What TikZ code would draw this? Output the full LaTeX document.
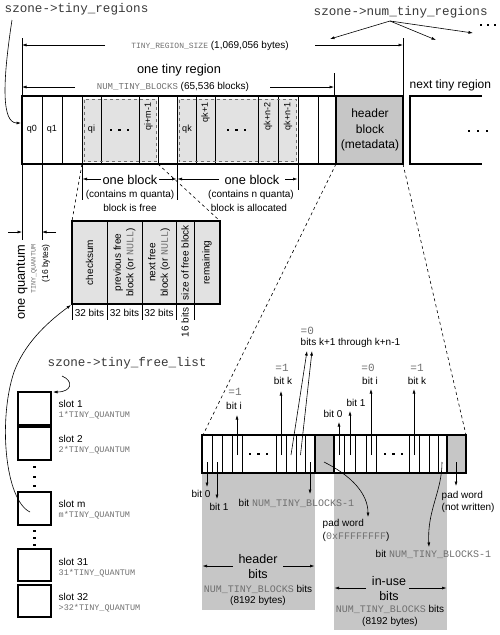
\documentclass[tikz,border=0pt]{standalone}
\usepackage{fontspec}
\setmainfont{Liberation Sans}
\setsansfont{Liberation Sans}
\setmonofont{Liberation Mono}
\usetikzlibrary{arrows.meta}
\definecolor{mgray}{HTML}{707070}
\definecolor{lgray}{HTML}{E2E2E2}
\definecolor{dgray}{HTML}{C6C6C6}
\definecolor{szc}{HTML}{383838}
\newcommand{\mt}[1]{{\ttfamily\color{mgray}#1}}
\newcommand{\myfs}[1]{\fontsize{#1}{#1}\selectfont}
\begin{document}
\begin{tikzpicture}[x=1pt,y=-1pt,
  every node/.style={inner sep=0.5pt},
  ln/.style={line width=0.6pt},
  bx/.style={line width=1.2pt},
  arr/.style={line width=0.6pt,-{Latex[length=4.5pt,width=3pt]}},
  proj/.style={line width=0.6pt,dash pattern=on 3pt off 3pt},
  sz/.style={font=\ttfamily\myfs{12.6}, text=szc},
  f9/.style={font=\myfs{9}},
  f10/.style={font=\fontsize{10}{12.5}\selectfont},
  f12/.style={font=\myfs{12.8}},
  eq/.style={font=\ttfamily\myfs{11}, text=mgray},
  dotsq/.style={fill=black}]
\useasboundingbox (0,0) rectangle (500,635);

% ---------- top labels ----------
\node[sz,anchor=west] (tr) at (4,9) {szone->tiny\_regions};
\draw[arr] (12,20) .. controls (2,85) and (2,123) .. (21,123);
\node[sz,anchor=west] (ntr) at (313,12) {szone->num\_tiny\_regions};
\coordinate (nf) at (390,21);
\draw[arr] (nf) -- (330,39);
\draw[arr] (nf) -- (436,40);
\draw[arr] (nf) -- (473,33);
\foreach \x in {481,488,495} \fill[dotsq] (\x-1.3,23.7) rectangle +(2.6,2.6);

% ---------- dimension lines ----------
\draw[ln] (22,38) -- (22,240);
\draw[ln] (403,38) -- (403,96);
\draw[ln] (334,73) -- (334,96);
\node[f10] (trs) at (210,46) {{\myfs{8}\mt{TINY\_REGION\_SIZE}} (1,069,056 bytes)};
\draw[arr] (105,45) -- (22,45);
\draw[arr] (315,45) -- (403,45);
\node[f12] (otr) at (179,70) {one tiny region};
\node[f10] (ntb) at (173,87) {{\myfs{9}\mt{NUM\_TINY\_BLOCKS}} (65,536 blocks)};
\draw[arr] (75,87) -- (22,87);
\draw[arr] (270,87) -- (334,87);

% ---------- region ----------
\fill[lgray] (83,98.5) rectangle (157,162);
\fill[lgray] (178,98.5) rectangle (297,162);
\fill[dgray] (336,96) rectangle (403,164);
\foreach \x in {42,62,82,101,139,158,177,196,215,258,278,298,318}
  \draw[ln] (\x,96) -- (\x,164);
\draw[proj,mgray] (84,99.5) rectangle (156.5,161.5);
\draw[proj,mgray] (179,99.5) rectangle (296.5,161.5);
\draw[bx] (22,96) -- (403,96) -- (403,164) -- (22,164) -- cycle;
\draw[line width=2.4pt] (336,96) -- (336,164);
\node[f9] (q0) at (32,129) {q0};
\node[f9] (q1) at (52,129) {q1};
\node[f9] (qi) at (91.5,129) {qi};
\node[f9,rotate=90,anchor=east] (qim) at (148.5,102) {qi+m-1};
\node[f9] (qk) at (187,129) {qk};
\node[f9,rotate=90,anchor=east] (qk1) at (205.5,102) {qk+1};
\node[f9,rotate=90,anchor=east] (qkn2) at (268,102) {qk+n-2};
\node[f9,rotate=90,anchor=east] (qkn1) at (288,102) {qk+n-1};
\foreach \x in {111,119.5,128} \fill[dotsq] (\x-1.3,128.7) rectangle +(2.6,2.6);
\foreach \x in {228,236.5,245} \fill[dotsq] (\x-1.3,128.7) rectangle +(2.6,2.6);
\node[align=center,font=\fontsize{12}{15.5}\selectfont] (hb) at (370,130) {header\\block\\(metadata)};
\draw[bx] (482,96) -- (410,96) -- (410,164) -- (482,164);
\node[font=\myfs{12},anchor=west] (ntreg) at (409,85) {next tiny region};
\foreach \x in {469,478,487} \fill[dotsq] (\x-1.3,129.7) rectangle +(2.6,2.6);

% ---------- one quantum ----------
\draw[ln] (42,164) -- (42,240);
\draw[arr] (8,232) -- (22,232);
\draw[arr] (56,232) -- (42,232);
\node[f12,rotate=90,anchor=east] (oq) at (22,244) {one quantum};
\node[font=\ttfamily\myfs{6.8},text=mgray,rotate=90,anchor=east] (tq) at (34,244) {TINY\_QUANTUM};
\node[font=\myfs{8.5},rotate=90,anchor=east] (sb) at (46,244) {(16 bytes)};

% ---------- one block ----------
\draw[ln] (82,164) -- (82,200);
\draw[ln] (177,164) -- (177,200);
\draw[ln] (298,164) -- (298,190);
\node[f12] (ob1) at (130,180) {one block};
\draw[arr] (101,179) -- (82.5,179);
\draw[arr] (159,179) -- (176.5,179);
\node[f10] (cm) at (130,195) {(contains m quanta)};
\node[f10] (bf) at (130,208) {block is free};
\node[f12] (ob2) at (252,180) {one block};
\draw[arr] (219,179) -- (177.5,179);
\draw[arr] (285,179) -- (297.5,179);
\node[f10] (cn) at (251,195) {(contains n quanta)};
\node[f10] (ba) at (249,208) {block is allocated};

% ---------- projections ----------
\draw[proj] (82,164) -- (72,221);
\draw[proj] (158,164) -- (220,221);
\draw[proj] (336,164) -- (203,435);
\draw[proj] (403,164) -- (466,435);

% ---------- free block detail ----------
\fill[lgray] (72,221) rectangle (220,304);
\foreach \x in {107,142,176,194} \draw[line width=0.9pt] (\x,221) -- (\x,304);
\draw[bx] (72,221) rectangle (220,304);
\node[f10,rotate=90] (cs) at (89.5,262.5) {checksum};
\node[f10,rotate=90,align=center] (pf) at (124.5,262.5) {previous free\\block (or \mt{NULL})};
\node[f10,rotate=90,align=center] (nfb) at (159,262.5) {next free\\block (or \mt{NULL})};
\node[f10,rotate=90] (sfb) at (185,262.5) {size of free block};
\node[f10,rotate=90] (rem) at (207,262.5) {remaining};
\foreach \x in {72,107,142,176,194} \draw[ln] (\x,304) -- (\x,320);
\node[f10] (b1) at (89.5,313) {32 bits};
\node[f10] (b2) at (124.5,313) {32 bits};
\node[f10] (b3) at (159,313) {32 bits};
\node[f10,rotate=90,anchor=east] (b4) at (185,307) {16 bits};

% ---------- free list ----------
\node[sz,anchor=west] (tfl) at (47,363) {szone->tiny\_free\_list};
\draw[arr] (62,376) .. controls (74,381) and (72,392) .. (53,392);
\draw[bx] (18,392) rectangle (51,425);
\draw[bx] (18,427) rectangle (51,460);
\draw[bx] (18,492) rectangle (51,525);
\draw[bx] (18,549) rectangle (51,581);
\draw[bx] (18,585) rectangle (51,617);
\foreach \y in {467,477,486,531,538,545} \fill[dotsq] (33.2,\y-1.3) rectangle +(2.6,2.6);
\node[f10,anchor=west] (s1) at (58,404) {slot 1};
\node[font=\ttfamily\myfs{8.5},text=mgray,anchor=west] (s1q) at (58,415) {1*TINY\_QUANTUM};
\node[f10,anchor=west] (s2) at (58,439) {slot 2};
\node[font=\ttfamily\myfs{8.5},text=mgray,anchor=west] (s2q) at (58,450) {2*TINY\_QUANTUM};
\node[f10,anchor=west] (sm) at (58,504) {slot m};
\node[font=\ttfamily\myfs{8.5},text=mgray,anchor=west] (smq) at (58,515) {m*TINY\_QUANTUM};
\node[f10,anchor=west] (s31) at (58,562) {slot 31};
\node[font=\ttfamily\myfs{8.5},text=mgray,anchor=west] (s31q) at (58,573) {31*TINY\_QUANTUM};
\node[f10,anchor=west] (s32) at (58,597) {slot 32};
\node[font=\ttfamily\myfs{8.5},text=mgray,anchor=west] (s32q) at (58,608) {>32*TINY\_QUANTUM};
\draw[arr] (30,512) .. controls (5,500) and (-2,420) .. (14,372) .. controls (24,345) and (45,324) .. (71,305);

% ---------- bitmaps ----------
\fill[dgray] (202,473) rectangle (315,610);
\fill[dgray] (334,473) rectangle (447,630);
\fill[white] (202,435) rectangle (466,473);
\foreach \x in {212,222,232,242,276,286,296,305,344,355,366,376,409,419,429,438}
  \draw[ln] (\x,435) -- (\x,473);
\draw[bx] (202,435) rectangle (466,473);
\draw[bx,fill=dgray] (315,435) rectangle (334,473);
\draw[bx,fill=dgray] (447,435) rectangle (466,473);
\foreach \x in {250,258.5,267,385,393.5,402} \fill[dotsq] (\x-1.3,452.7) rectangle +(2.6,2.6);

% labels above header bits
\node[eq] (e1) at (235,392) {=1};
\node[f10] (bi) at (234,406) {bit i};
\draw[arr] (237,455) -- (237,415);
\node[eq] (e2) at (282,368) {=1};
\node[f10] (bk) at (283,381) {bit k};
\draw[arr] (281,455) -- (281,391);
\node[eq,anchor=west] (e3) at (300,331) {=0};
\node[f10,anchor=west] (bkk) at (300,343) {bits k+1 through k+n-1};
\draw[arr] (291,455) -- (307,351);
\draw[arr] (300.5,455) -- (312,351);
% labels above in-use bits
\node[f10] (ub0) at (333,414) {bit 0};
\draw[arr] (339,455) -- (339,422);
\node[f10] (ub1) at (356,403) {bit 1};
\draw[arr] (350,455) -- (350,411);
\node[eq] (e4) at (368,368) {=0};
\node[f10] (ubi) at (370,381) {bit i};
\draw[arr] (371,455) -- (371,389);
\node[eq] (e5) at (417,368) {=1};
\node[f10] (ubk) at (417,381) {bit k};
\draw[arr] (414,455) -- (414,389);

% labels below header bits
\draw[arr] (207,462) -- (207,487);
\node[f10] (hb0) at (201,494) {bit 0};
\draw[arr] (217,462) -- (217,499);
\node[f10] (hb1) at (219,507) {bit 1};
\draw[arr] (310,462) -- (310,494);
\node[f10,anchor=west] (hbn) at (238,503) {bit \mt{NUM\_TINY\_BLOCKS-1}};
\node[font=\myfs{12.5}] (hh) at (258,559) {header};
\node[font=\myfs{12.5}] (hbits) at (258,574) {bits};
\draw[arr] (233,566) -- (202.5,566);
\draw[arr] (283,566) -- (314.5,566);
\node[f10] (hn) at (258,589) {\mt{NUM\_TINY\_BLOCKS} bits};
\node[f10] (hsz) at (258,601) {(8192 bytes)};

% pad words
\draw[arr] (324,462) .. controls (352,476) and (368,494) .. (368,517);
\node[f10,anchor=west] (pw1) at (322,524) {pad word};
\node[f10,anchor=west] (pw1b) at (322,537) {(\mt{0xFFFFFFFF})};
\draw[arr] (456,462) -- (456,486);
\node[f10,anchor=west] (pw2) at (441,496) {pad word};
\node[f10,anchor=west] (pw2b) at (441,508) {(not written)};
\draw[arr] (442,462) .. controls (442,492) and (427,510) .. (429,547);
\node[f10,anchor=west] (ubn) at (375,554) {bit \mt{NUM\_TINY\_BLOCKS-1}};

% in-use bits
\node[font=\myfs{12.5}] (iu) at (389,581) {in-use};
\node[font=\myfs{12.5}] (iub) at (389,596) {bits};
\draw[arr] (366,588) -- (334.5,588);
\draw[arr] (409,588) -- (446.5,588);
\node[f10] (un) at (390,609) {\mt{NUM\_TINY\_BLOCKS} bits};
\node[f10] (usz) at (390,622) {(8192 bytes)};
\end{tikzpicture}
\end{document}
